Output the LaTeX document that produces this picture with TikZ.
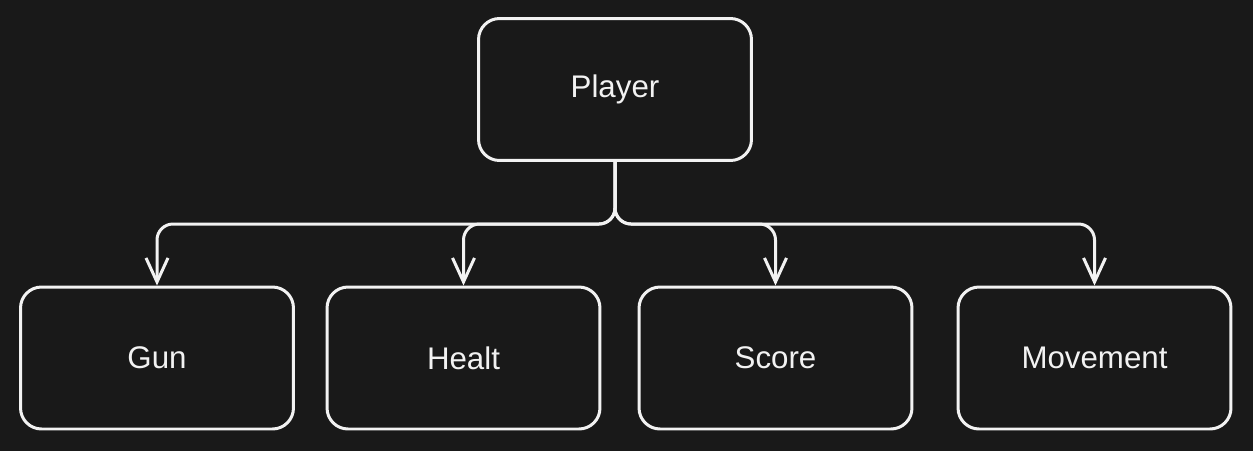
\documentclass[tikz,border=0pt]{standalone}
\usepackage{fontspec}
\setmainfont{Liberation Sans}
\usetikzlibrary{arrows.meta}

\definecolor{bgdark}{HTML}{191919}
\definecolor{inkwhite}{HTML}{F2F2F2}

\begin{document}
\begin{tikzpicture}[
    x=0.02cm, y=-0.02cm,
    box/.style={rectangle, rounded corners=0.42cm, draw=inkwhite, line width=0.06cm,
        minimum width=5.46cm, minimum height=2.84cm, inner sep=0pt,
        text=inkwhite, font=\fontsize{17.8}{19}\selectfont},
    link/.style={draw=inkwhite, line width=0.06cm, line cap=round, line join=round,
        rounded corners=0.32cm, -{Straight Barb[length=0.48cm, width=0.44cm]}}
]
    \fill[bgdark] (0,0) rectangle (1253,451);
    \node[box] (player) at (615,89.5) {Player};
    \node[box] (gun) at (157,358) {Gun};
    \node[box] (healt) at (463.5,358) {Healt};
    \node[box] (score) at (775.5,358) {Score};
    \node[box] (movement) at (1094.5,358) {Movement};
    \coordinate (bus) at (615,224);
    \draw[link] (player.south) -- (bus) -| (gun.north);
    \draw[link] (player.south) -- (bus) -| (healt.north);
    \draw[link] (player.south) -- (bus) -| (score.north);
    \draw[link] (player.south) -- (bus) -| (movement.north);
\end{tikzpicture}
\end{document}
